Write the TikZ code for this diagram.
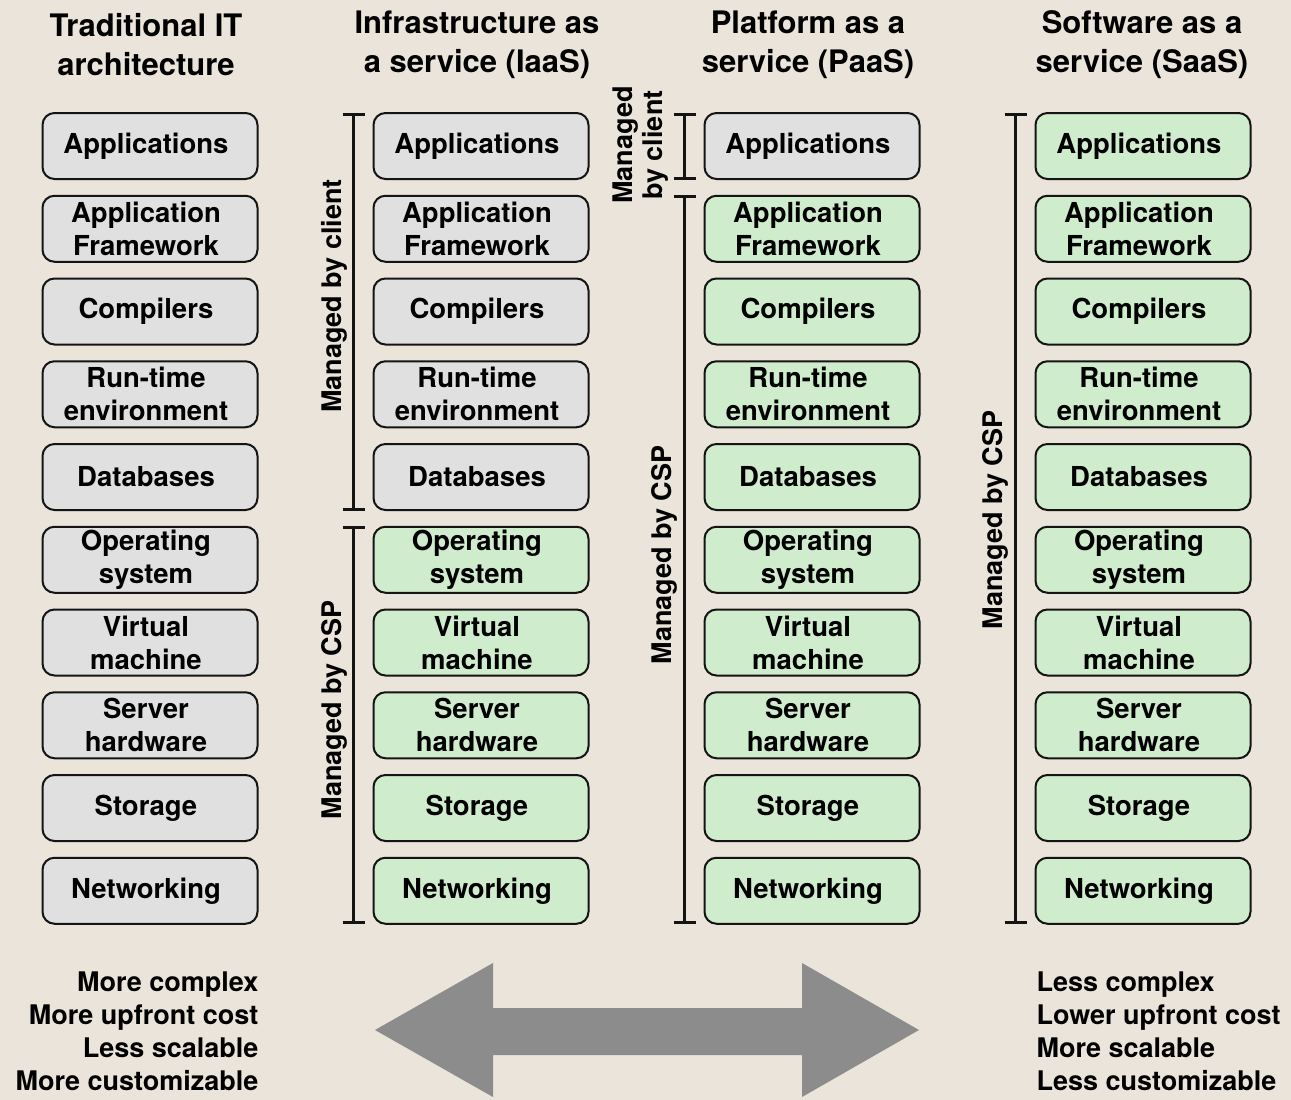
\documentclass[tikz,border=0pt]{standalone}
\usepackage{fontspec}
\setmainfont{TeX Gyre Heros}
\usetikzlibrary{arrows.meta,positioning,calc}
\definecolor{paper}{RGB}{234,228,218}
\definecolor{own}{RGB}{224,224,224}
\definecolor{csp}{RGB}{207,236,204}
\definecolor{ink}{RGB}{20,20,20}
\definecolor{slab}{RGB}{140,140,140}
\tikzset{
  layer/.style={draw=ink,fill=#1,line width=2pt,rounded corners=12pt,
    minimum width=215pt,minimum height=66pt,inner sep=0pt},
  layer/.default=own,
  layertext/.style={align=center,xshift=-4pt,inner sep=0pt,
    font=\fontsize{27.5}{33}\selectfont\bfseries},
  head/.style={font=\fontsize{31}{39}\selectfont\bfseries,align=center},
  brace/.style={draw=ink,line width=3pt},
  who/.style={font=\fontsize{27}{30}\selectfont\bfseries,rotate=90,align=center},
  note/.style={font=\fontsize{27}{33}\selectfont\bfseries},
}
% bracket beside a run of layers
\newcommand\clamp[2]{%
  \draw[brace] ($(#1.north west)+(-30,2)$) -- +(22,0);
  \draw[brace] ($(#2.south west)+(-30,-2)$) -- +(22,0);
  \draw[brace] ($(#1.north west)+(-19,2)$) -- ($(#2.south west)+(-19,-2)$);
}
\begin{document}
\begin{tikzpicture}[x=1pt,y=-1pt]
  \fill[paper] (0,0) rectangle (1291,1100);
  \useasboundingbox (0,0) rectangle (1291,1100);

  % column heads
  \node[head] (tT) at (146,45) {Traditional IT\\architecture};
  \node[head] (tI) at (477,45) {Infrastructure as\\a service (IaaS)};
  \node[head] (tP) at (808,45) {Platform as a\\service (PaaS)};
  \node[head] (tS) at (1142,45) {Software as a\\service (SaaS)};

  % stacks: name / x / rows run by the client
  \foreach \c/\x/\n in {t/150/10,i/481/5,p/812/1,s/1143/0}{
    \foreach \lbl [count=\r] in {Applications,Application\\Framework,Compilers,
        Run-time\\environment,Databases,Operating\\system,Virtual\\machine,
        Server\\hardware,Storage,Networking}{
      \ifnum\r>\n \def\fc{csp}\else\def\fc{own}\fi
      \node[layer=\fc,label={[layertext]center:\lbl}] (\c\r)
        at (\x,{146+(\r-1)*82.75}) {};
    }
  }

  % who manages what
  \clamp{i1}{i5}
  \clamp{i6}{i10}
  \node[who] (iC) at (334,296) {Managed by client};
  \node[who] (iS) at (334,710) {Managed by CSP};
  \clamp{p1}{p1}
  \clamp{p2}{p10}
  \node[who] (pC) at (641,145) {Managed\\by client};
  \node[who] (pS) at (664,555) {Managed by CSP};
  \clamp{s1}{s10}
  \node[who] (sS) at (995,520) {Managed by CSP};

  % trade-off
  \fill[slab] (375,1030) -- (493,963) -- (493,1008) -- (802,1008) -- (802,963)
    -- (919,1030) -- (802,1097) -- (802,1055) -- (493,1055) -- (493,1097) -- cycle;
  \node[note,anchor=east,align=right] (pro) at (262,1031)
    {More complex\\More upfront cost\\Less scalable\\More customizable};
  \node[note,anchor=west,align=left] (con) at (1033,1031)
    {Less complex\\Lower upfront cost\\More scalable\\Less customizable};
\end{tikzpicture}
\end{document}
